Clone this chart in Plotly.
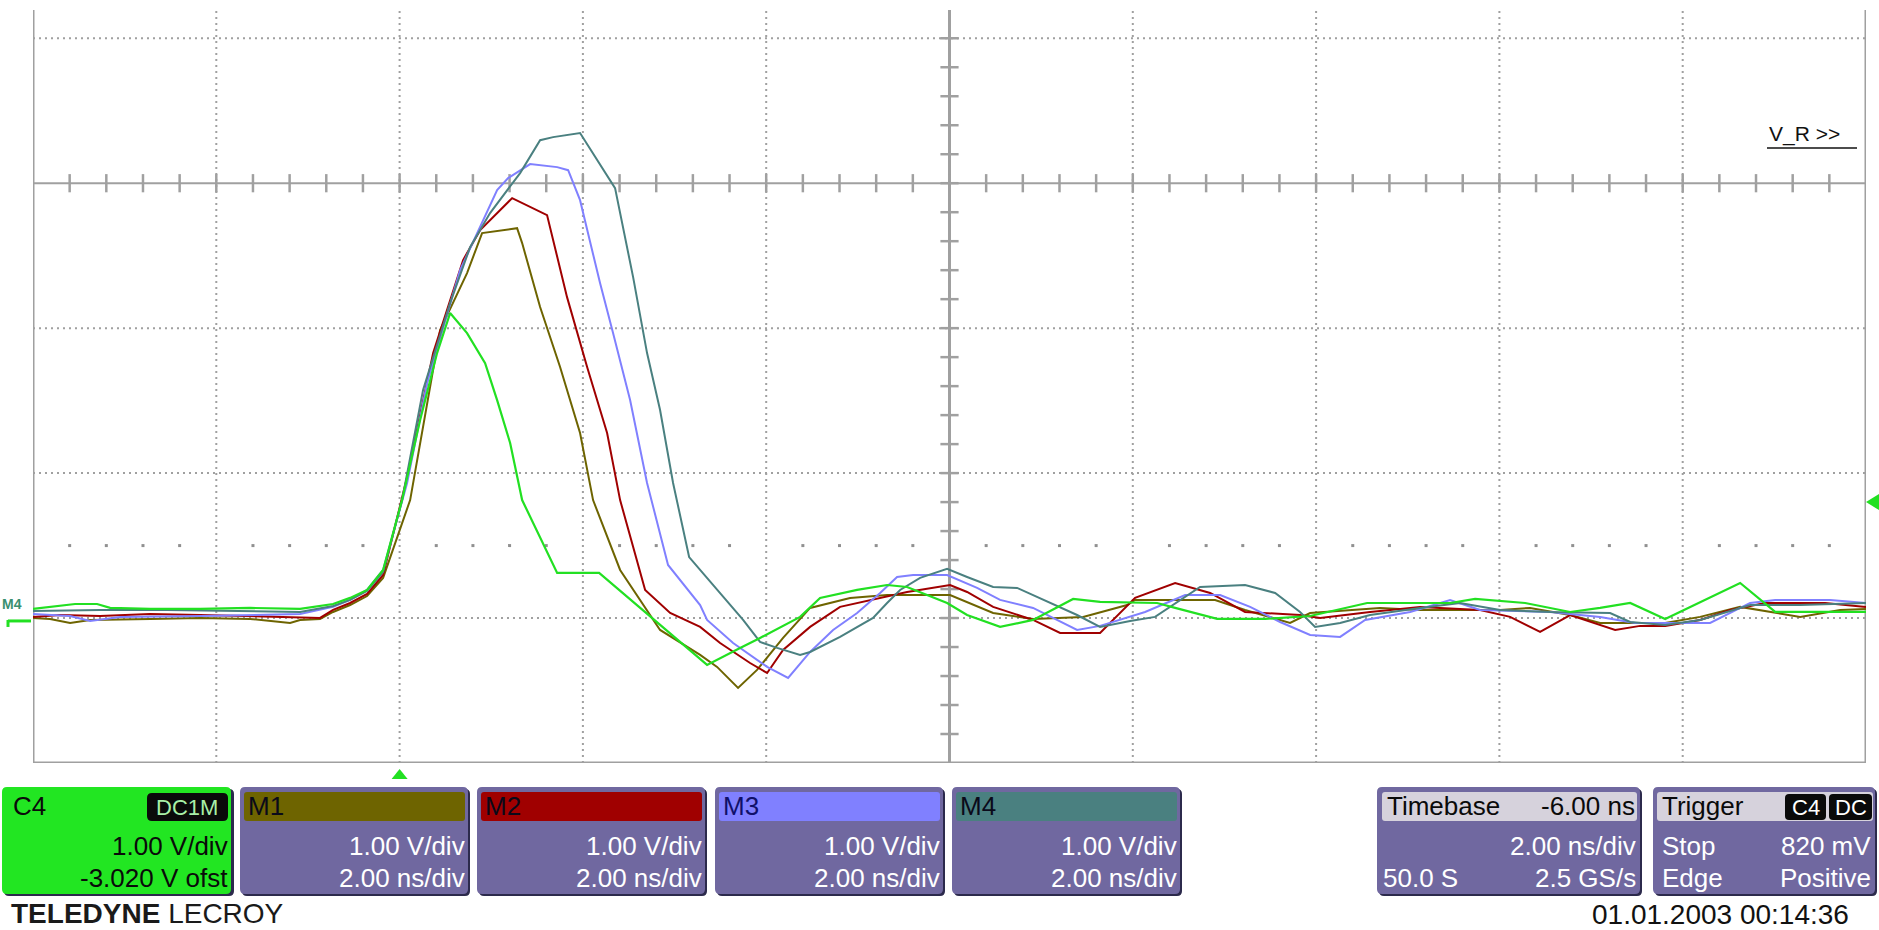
import plotly.graph_objects as go
import numpy as np

# ---------------- data: (time [ns], amplitude [V]) ----------------
c4_pts = [(-4.000, 0.083), (-3.738, 0.103), (-3.541, 0.117), (-3.301, 0.117), (-3.159, 0.090),
          (-2.722, 0.083), (-2.177, 0.083), (-1.631, 0.090), (-1.086, 0.083), (-0.726, 0.117),
          (-0.540, 0.159), (-0.355, 0.214), (-0.180, 0.352), (0.027, 0.834), (0.224, 1.386),
          (0.409, 1.848), (0.551, 2.124), (0.736, 1.986), (0.933, 1.779), (1.064, 1.524),
          (1.206, 1.228), (1.337, 0.834), (1.719, 0.331), (2.177, 0.331), (3.355, -0.303),
          (3.715, -0.186), (3.933, -0.117), (4.370, 0.028), (4.588, 0.159), (4.992, 0.214),
          (5.319, 0.248), (5.537, 0.234), (5.974, 0.124), (6.192, 0.041), (6.552, -0.041),
          (6.912, 0.007), (7.349, 0.152), (7.643, 0.131), (8.265, 0.124), (8.462, 0.090),
          (8.920, 0.014), (9.444, 0.014), (9.935, 0.034), (10.557, 0.124), (11.463, 0.124),
          (11.735, 0.152), (12.281, 0.124), (12.772, 0.062), (13.099, 0.090), (13.427, 0.124),
          (13.809, 0.014), (14.627, 0.262), (15.009, 0.062), (16.000, 0.062)]

m1_pts = [(-4.000, 0.021), (-3.814, 0.014), (-3.595, -0.014), (-3.377, 0.007), (-2.722, 0.014),
          (-2.177, 0.021), (-1.631, 0.014), (-1.195, -0.014), (-1.086, 0.007), (-0.868, 0.014),
          (-0.726, 0.062), (-0.540, 0.110), (-0.355, 0.172), (-0.180, 0.297), (0.115, 0.834),
          (0.442, 2.007), (0.736, 2.400), (0.900, 2.676), (1.282, 2.710), (1.337, 2.607),
          (1.533, 2.166), (1.751, 1.752), (1.969, 1.297), (2.111, 0.834), (2.406, 0.352),
          (2.842, -0.062), (3.279, -0.234), (3.464, -0.317), (3.693, -0.462), (3.900, -0.338),
          (4.184, -0.117), (4.479, 0.090), (4.915, 0.159), (5.319, 0.179), (6.006, 0.179),
          (6.192, 0.131), (6.476, 0.055), (6.912, 0.014), (7.458, 0.028), (7.938, 0.110),
          (8.025, 0.145), (8.898, 0.145), (9.225, 0.076), (9.716, -0.014), (9.935, 0.055),
          (10.698, 0.090), (11.135, 0.076), (12.008, 0.076), (12.335, 0.090), (12.772, 0.041),
          (13.099, -0.014), (13.809, -0.014), (14.190, 0.028), (14.627, 0.097), (15.282, 0.028),
          (15.718, 0.076), (16.000, 0.083)]

m2_pts = [(-4.000, 0.028), (-3.705, 0.041), (-3.268, 0.034), (-2.722, 0.048), (-2.177, 0.041),
          (-1.631, 0.034), (-1.086, 0.028), (-0.868, 0.021), (-0.726, 0.076), (-0.540, 0.124),
          (-0.355, 0.186), (-0.180, 0.317), (0.082, 0.993), (0.366, 1.848), (0.693, 2.490),
          (0.879, 2.697), (1.228, 2.917), (1.609, 2.800), (1.827, 2.234), (2.046, 1.752),
          (2.264, 1.297), (2.406, 0.834), (2.679, 0.214), (2.952, 0.055), (3.279, -0.041),
          (3.497, -0.152), (3.824, -0.290), (4.010, -0.359), (4.184, -0.200), (4.479, -0.041),
          (4.806, 0.097), (5.243, 0.159), (5.537, 0.200), (6.006, 0.248), (6.192, 0.200),
          (6.476, 0.097), (6.912, 0.007), (7.207, -0.083), (7.643, -0.083), (8.025, 0.159),
          (8.462, 0.262), (8.844, 0.193), (9.225, 0.062), (9.825, 0.041), (10.044, 0.021),
          (10.589, 0.062), (11.135, 0.097), (11.790, 0.076), (12.117, 0.028), (12.444, -0.076),
          (12.772, 0.041), (13.263, -0.062), (13.536, -0.034), (13.809, -0.034), (14.190, 0.007),
          (14.518, 0.076), (14.900, 0.124), (15.554, 0.124), (16.000, 0.097)]

m3_pts = [(-4.000, 0.048), (-3.595, 0.034), (-3.377, 0.000), (-3.050, 0.028), (-2.177, 0.034),
          (-1.631, 0.041), (-1.086, 0.048), (-0.726, 0.097), (-0.540, 0.145), (-0.355, 0.214),
          (-0.180, 0.352), (0.082, 0.952), (0.300, 1.641), (0.660, 2.421), (0.911, 2.766),
          (1.064, 2.972), (1.184, 3.055), (1.424, 3.152), (1.719, 3.131), (1.839, 3.110),
          (1.969, 2.903), (2.187, 2.331), (2.329, 1.986), (2.515, 1.524), (2.700, 0.952),
          (2.929, 0.386), (3.279, 0.110), (3.355, 0.007), (3.639, -0.152), (4.010, -0.317),
          (4.239, -0.393), (4.479, -0.214), (4.730, -0.062), (4.992, 0.055), (5.243, 0.193),
          (5.428, 0.303), (5.603, 0.317), (5.974, 0.317), (6.301, 0.228), (6.552, 0.145),
          (6.912, 0.090), (7.392, -0.062), (7.643, -0.034), (8.134, 0.062), (8.571, 0.179),
          (8.953, 0.179), (9.280, 0.097), (9.607, -0.007), (9.935, -0.097), (10.262, -0.110),
          (10.535, 0.007), (11.026, 0.062), (11.462, 0.145), (11.790, 0.076), (12.553, 0.062),
          (13.099, 0.028), (13.481, -0.014), (14.299, -0.014), (14.736, 0.124), (15.009, 0.145),
          (15.609, 0.145), (16.000, 0.124)]

m4_pts = [(-4.000, 0.069), (-3.268, 0.076), (-2.537, 0.076), (-1.631, 0.069), (-1.086, 0.062),
          (-0.726, 0.103), (-0.540, 0.145), (-0.355, 0.207), (-0.180, 0.338), (0.027, 0.834),
          (0.256, 1.593), (0.551, 2.193), (0.769, 2.579), (0.987, 2.814), (1.315, 3.090),
          (1.533, 3.317), (1.675, 3.338), (1.969, 3.366), (2.351, 2.986), (2.548, 2.372),
          (2.700, 1.848), (2.842, 1.455), (2.984, 0.952), (3.159, 0.441), (3.497, 0.193),
          (3.748, 0.007), (3.933, -0.145), (4.119, -0.186), (4.370, -0.234), (4.479, -0.214),
          (4.806, -0.110), (5.166, 0.021), (5.319, 0.124), (5.461, 0.214), (5.679, 0.297),
          (5.974, 0.359), (6.192, 0.303), (6.476, 0.234), (6.738, 0.228), (7.098, 0.124),
          (7.392, 0.041), (7.643, -0.041), (7.971, 0.000), (8.243, 0.028), (8.734, 0.234),
          (9.225, 0.248), (9.553, 0.193), (9.825, 0.062), (9.989, -0.041), (10.262, -0.014),
          (10.589, 0.041), (11.135, 0.090), (11.571, 0.124), (12.008, 0.076), (12.553, 0.062),
          (13.208, 0.055), (13.427, -0.007), (13.809, -0.028), (14.190, 0.007), (14.736, 0.110),
          (15.282, 0.110), (16.000, 0.124)]

trace_names = ["M1", "M2", "M3", "M4", "C4"]
trace_colors = ["#6e6400", "#a00000", "#8080ff", "#4a8080", "#22e022"]
trace_data = [m1_pts, m2_pts, m3_pts, m4_pts, c4_pts]

# scope settings
volts_per_div = 1.00
ns_per_div = 2.00
offset_v = -3.020
trigger_level = 0.820
t_center = 6.0            # -(-6.00 ns) timebase delay

# ---------------- geometry ----------------
W, H = 1879, 930
ML, MR, MT, MB = 33, 13, 10, 167
PW, PH = W - ML - MR, H - MT - MB
v_center = -offset_v
x_range = [t_center - 5 * ns_per_div, t_center + 5 * ns_per_div]
y_range = [v_center - 4 * volts_per_div, v_center + 1.195 * volts_per_div]


def px(x):
    return (x - ML) / PW


def py(y):
    return (H - MB - y) / PH


def t2px(t):
    return ML + (t - x_range[0]) / (x_range[1] - x_range[0]) * PW


def v2py(v):
    return MT + (y_range[1] - v) / (y_range[1] - y_range[0]) * PH


GRID = "#a0a0a0"
GREEN = "#22e022"
fig = go.Figure()

shapes = []
annots = []

# graticule
for k in range(-5, 6):
    t = t_center + k * ns_per_div
    if k in (-5, 5, 0):
        ln = dict(color=GRID, width=3)
    else:
        ln = dict(color=GRID, width=2, dash="2px,4px")
    shapes.append(dict(type="line", xref="x", yref="y", x0=t, x1=t, y0=y_range[0], y1=y_range[1],
                       line=ln, layer="below"))
for k in range(-4, 2):
    v = v_center + k * volts_per_div
    if k == -4:
        ln = dict(color=GRID, width=3)
    elif k == 0:
        ln = dict(color=GRID, width=2)
    else:
        ln = dict(color=GRID, width=2, dash="2px,4px")
    shapes.append(dict(type="line", xref="x", yref="y", x0=x_range[0], x1=x_range[1], y0=v, y1=v,
                       line=ln, layer="below"))

# minor ticks on centre axes
tx = np.arange(x_range[0] + 0.4, x_range[1] - 0.2, 0.4)
fig.add_trace(go.Scatter(x=tx, y=np.full_like(tx, v_center), mode="markers", hoverinfo="skip",
                         marker=dict(symbol="line-ns", size=13, line=dict(color=GRID, width=2.5)),
                         showlegend=False))
ty = np.arange(v_center - 3.8, y_range[1], 0.2)
fig.add_trace(go.Scatter(x=np.full_like(ty, t_center), y=ty, mode="markers", hoverinfo="skip",
                         marker=dict(symbol="line-ew", size=13, line=dict(color=GRID, width=2.5)),
                         showlegend=False))
# row of small dots
dx = np.array([t for t in np.arange(x_range[0] + 0.4, x_range[1] - 0.2, 0.4)
               if abs((t - t_center) / ns_per_div - round((t - t_center) / ns_per_div)) > 0.05])
fig.add_trace(go.Scatter(x=dx, y=np.full_like(dx, v_center - 2.5), mode="markers", hoverinfo="skip",
                         marker=dict(symbol="square", size=3, color="#909090"), showlegend=False))

# waveforms
for name, col, pts in zip(trace_names, trace_colors, trace_data):
    t, v = zip(*pts)
    fig.add_trace(go.Scatter(x=list(t), y=list(v), mode="lines", name=name, hoverinfo="skip",
                             line=dict(color=col, width=2.2 if name == "C4" else 2), showlegend=False))

# trigger position marker (below grid) and trigger level marker (right edge)
tx0 = t2px(0.0)
shapes.append(dict(type="path", xref="paper", yref="paper", fillcolor=GREEN, line=dict(width=0),
                   path=f"M {px(tx0)},{py(769)} L {px(tx0+8)},{py(779)} L {px(tx0-8)},{py(779)} Z"))
ty0 = v2py(trigger_level)
shapes.append(dict(type="path", xref="paper", yref="paper", fillcolor=GREEN, line=dict(width=0),
                   path=f"M {px(1866)},{py(ty0)} L {px(1879)},{py(ty0-8)} L {px(1879)},{py(ty0+8)} Z"))

# ground marker on the left
g0 = v2py(0.0)
shapes.append(dict(type="line", xref="paper", yref="paper", x0=px(8), x1=px(31), y0=py(g0), y1=py(g0),
                   line=dict(color=GREEN, width=3)))
shapes.append(dict(type="line", xref="paper", yref="paper", x0=px(8), x1=px(8), y0=py(g0 - 1), y1=py(g0 + 6),
                   line=dict(color=GREEN, width=3)))
annots.append(dict(xref="paper", yref="paper", x=px(0), y=py(604), text="<b>M4</b>", showarrow=False,
                   xanchor="left", yanchor="middle",
                   font=dict(family="Liberation Sans", size=14, color="#3a9070")))

# V_R >> label
annots.append(dict(xref="paper", yref="paper", x=px(1767), y=py(134), text="V_R >>", showarrow=False,
                   xanchor="left", yanchor="middle",
                   font=dict(family="Liberation Sans", size=21, color="#111111")))
shapes.append(dict(type="line", xref="paper", yref="paper", x0=px(1767), x1=px(1857), y0=py(148), y1=py(148),
                   line=dict(color="#111111", width=1.5)))


def rrect(x0, y0, x1, y1, r, fill, layer="above"):
    X0, X1, Yb, Yt = px(x0), px(x1), py(y1), py(y0)
    rx, ry = r / PW, r / PH
    path = (f"M {X0+rx},{Yb} L {X1-rx},{Yb} Q {X1},{Yb} {X1},{Yb+ry} L {X1},{Yt-ry} "
            f"Q {X1},{Yt} {X1-rx},{Yt} L {X0+rx},{Yt} Q {X0},{Yt} {X0},{Yt-ry} "
            f"L {X0},{Yb+ry} Q {X0},{Yb} {X0+rx},{Yb} Z")
    shapes.append(dict(type="path", xref="paper", yref="paper", path=path, fillcolor=fill,
                       line=dict(width=0), layer=layer))


def text(x, y, s, color, anchor="left", size=26, family="Liberation Sans"):
    annots.append(dict(xref="paper", yref="paper", x=px(x), y=py(y), text=s, showarrow=False,
                       xanchor=anchor, yanchor="middle", font=dict(family=family, size=size, color=color)))


BOX = "#7068a0"
SHADOW = "#2c2a4c"
BTOP, BBOT = 787, 894
ROW1, ROW2, ROW3 = 806, 846, 878

# C4 box
rrect(4, BTOP + 2, 234, BBOT + 2, 5, SHADOW)
rrect(2, BTOP, 231, BBOT, 5, "#22e622")
text(11, ROW1, "C4", "#0a0a0a")
rrect(147, 793, 228, 821, 5, "#0a0a0a")
text(187, ROW1 + 1, "DC1M", "#a8f0a8", anchor="center", size=22)
text(230, ROW2, f"{volts_per_div:.2f} V/div", "#0a0a0a", anchor="right")
text(230, ROW3, f"{offset_v:.3f} V ofst", "#0a0a0a", anchor="right")

# math boxes
math_boxes = [("M1", 240, 468, "#6e6400"), ("M2", 477, 705, "#a00000"),
              ("M3", 715, 943, "#8080ff"), ("M4", 952, 1180, "#4a8080")]
for name, x0, x1, col in math_boxes:
    rrect(x0 + 2, BTOP + 2, x1 + 2, BBOT + 2, 5, SHADOW)
    rrect(x0, BTOP, x1, BBOT, 5, BOX)
    rrect(x0 + 4, 792, x1 - 3, 821, 3, col)
    text(x0 + 6, ROW1, name, "#0a0a1a" if name != "M3" else "#10106a")
    text(x1 - 1, ROW2, f"{volts_per_div:.2f} V/div", "#ffffff", anchor="right")
    text(x1 - 1, ROW3, f"{ns_per_div:.2f} ns/div", "#ffffff", anchor="right")

# timebase box
rrect(1379, BTOP + 2, 1642, BBOT + 2, 5, SHADOW)
rrect(1377, BTOP, 1640, BBOT, 5, BOX)
rrect(1382, 792, 1637, 821, 3, "#d6d2dc")
text(1385, ROW1, "Timebase", "#0a0a0a")
text(1637, ROW1, f"{-t_center:.2f} ns", "#0a0a0a", anchor="right")
text(1638, ROW2, f"{ns_per_div:.2f} ns/div", "#ffffff", anchor="right")
text(1381, ROW3, "50.0 S", "#ffffff")
text(1638, ROW3, "2.5 GS/s", "#ffffff", anchor="right")

# trigger box
rrect(1655, BTOP + 2, 1877, BBOT + 2, 5, SHADOW)
rrect(1653, BTOP, 1875, BBOT, 5, BOX)
rrect(1657, 792, 1873, 821, 3, "#d6d2dc")
text(1660, ROW1, "Trigger", "#0a0a0a")
rrect(1785, 794, 1826, 820, 4, "#0a0a0a")
rrect(1829, 794, 1872, 820, 4, "#0a0a0a")
text(1805.5, ROW1 + 1, "C4", "#ffffff", anchor="center", size=22)
text(1850.5, ROW1 + 1, "DC", "#ffffff", anchor="center", size=22)
text(1660, ROW2, "Stop", "#ffffff")
text(1873, ROW2, f"{trigger_level*1000:.0f} mV", "#ffffff", anchor="right")
text(1660, ROW3, "Edge", "#ffffff")
text(1873, ROW3, "Positive", "#ffffff", anchor="right")

# footer texts
text(1851, 914, "01.01.2003 00:14:36", "#111111", anchor="right", size=28)
text(9, 913, "<b>TELEDYNE</b> LECROY", "#1a1a1a", size=28,
     family="Liberation Sans Narrow, Arial Narrow, Liberation Sans")

fig.update_layout(
    width=W, height=H,
    margin=dict(l=ML, r=MR, t=MT, b=MB, pad=0),
    paper_bgcolor="white", plot_bgcolor="white",
    xaxis=dict(range=x_range, showgrid=False, zeroline=False, showticklabels=False, ticks="",
               showline=False, fixedrange=True),
    yaxis=dict(range=y_range, showgrid=False, zeroline=False, showticklabels=False, ticks="",
               showline=False, fixedrange=True),
    shapes=shapes, annotations=annots, showlegend=False,
)

fig.write_html("out.html")
